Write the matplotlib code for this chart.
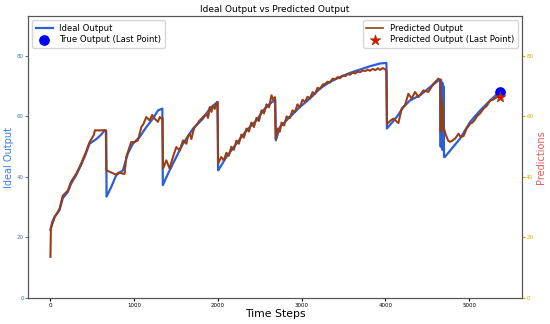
import matplotlib
matplotlib.use("Agg")
import matplotlib.pyplot as plt

# ---- data ----
ideal_x = [0, 20, 48, 108, 147, 207, 247, 307, 367, 420, 467, 547, 606, 640, 666,
           670, 726, 786, 865, 925, 985, 1065, 1145, 1224, 1284, 1336,
           1342, 1404, 1463, 1583, 1703, 1822, 1902, 1995,
           2002, 2022, 2101, 2221, 2341, 2460, 2540, 2620, 2685,
           2692, 2739, 2859, 2978, 3098, 3218, 3337, 3457, 3577, 3696, 3816, 3935, 4012,
           4018, 4135, 4214, 4294, 4414, 4533, 4633, 4655,
           4660, 4665, 4670, 4675, 4680, 4685, 4690, 4695, 4700,
           4710, 4793, 4892, 5012, 5132, 5251, 5363]
ideal_y = [22.5, 25, 26.8, 29, 33, 35, 37.8, 40.6, 44, 47.5, 51, 52.5, 54, 55.2, 55.3,
           33.5, 36.7, 40.6, 42.2, 47.8, 51, 53.2, 56.5, 59.3, 62, 62.6,
           37.3, 41.1, 44.4, 51, 56, 59.3, 62.6, 64.8,
           42.2, 43, 46.6, 51, 55.4, 58.7, 62, 64.2, 65.5,
           52.1, 56.5, 59.8, 63.1, 65.9, 69.2, 71.4, 73, 74.4, 75.5, 76.6, 77.5, 77.7,
           56, 59.8, 63.1, 65.3, 67, 69.7, 71.9, 72.2,
           50, 72, 50, 71, 49, 71, 50, 70, 46.6,
           46.6, 49.4, 52.7, 58.2, 62, 65.3, 68.1]

pred_x = [0, 5, 48, 108, 147, 207, 247, 307, 367, 420, 467, 520, 530, 600, 660,
          668, 700, 740, 780, 820, 850, 885, 905, 940, 965, 1000, 1045, 1085, 1110,
          1145, 1185, 1215, 1245, 1284, 1305, 1325, 1338,
          1345, 1384, 1423, 1463, 1503, 1543, 1583, 1623, 1643, 1663, 1683, 1703,
          1722, 1742, 1782, 1822, 1862, 1882, 1902, 1922, 1942, 1962, 1982, 1995,
          2003, 2040, 2070, 2101, 2130, 2160, 2190, 2221, 2250, 2280, 2310, 2341,
          2370, 2400, 2430, 2460, 2490, 2520, 2550, 2580, 2610, 2640, 2660, 2680,
          2690, 2710, 2739, 2760, 2790, 2820, 2859, 2890, 2920, 2950, 2978, 3010,
          3040, 3070, 3098, 3130, 3160, 3190, 3218, 3250, 3280, 3310, 3337, 3370,
          3400, 3430, 3457, 3490, 3520, 3550, 3577, 3610, 3640, 3670, 3696, 3730,
          3760, 3790, 3816, 3850, 3880, 3910, 3935, 3970, 4000, 4012,
          4018, 4055, 4095, 4155, 4195, 4234, 4274, 4314, 4354, 4394, 4453, 4513,
          4573, 4633, 4655,
          4660, 4665, 4670, 4675, 4680, 4685, 4690, 4700, 4720, 4750, 4773, 4800,
          4833, 4873, 4900, 4933, 4970, 5012, 5040, 5070, 5092, 5130, 5172, 5210,
          5251, 5290, 5331, 5363]
pred_y = [13.6, 23, 26.5, 29.5, 33.8, 35.5, 38.5, 41, 44.5, 48, 51.5, 54, 55.4, 55.4, 55.5,
          42.2, 41.8, 41.3, 40.8, 41.5, 41.2, 41.0, 46.6, 49.5, 51.6, 51.5, 52.1, 56.5, 57.5,
          59.8, 58.7, 60.5, 59.3, 58.2, 59.8, 59.3, 59.5,
          42.8, 45.5, 42.8, 46.6, 49.9, 48.8, 52.1, 51, 53.5, 54.3, 52.5, 54.9,
          56.5, 57.1, 58.7, 59.8, 60.9, 59.5, 63.1, 61.5, 63.6, 62.5, 64.2, 64.8,
          44.5, 46.6, 45.5, 48, 47, 50, 49, 52, 51, 54, 53, 56,
          55, 58, 56.5, 59.5, 58.5, 62, 61, 64, 63, 67, 65.5, 66.4,
          52.5, 56, 55, 58, 57, 60, 59.5, 62, 61.5, 64, 63, 65.5,
          64.8, 66.5, 66, 68, 67.5, 69.5, 69, 70.5, 70.8, 71.5, 71.2, 72.5,
          72.3, 73, 72.6, 73.5, 73.3, 74, 73.8, 74.5, 74.2, 74.8, 74.6, 75.2,
          75, 75.5, 75.1, 75.7, 75.3, 75.9, 75.4, 76, 75.5, 75.2,
          57.5, 58.5, 59.3, 57.8, 62.6, 63.7, 67.5, 65.9, 68.1, 66.4, 68.6, 68.1,
          70.8, 72.5, 72,
          55, 66, 55.5, 65, 56, 63, 57, 56, 54, 52, 51.6, 52,
          52.7, 54.3, 53.2, 53.5, 56, 57.6, 58, 59, 60, 61, 62.6, 63.5,
          65.3, 65.6, 66.4, 66.4]

title = "Ideal Output vs Predicted Output"
xlabel = "Time Steps"
ylabel_left = "Ideal Output"
ylabel_right = "Predictions"

fig = plt.figure(figsize=(5.5, 3.24), dpi=100)
ax1 = fig.add_subplot(111)
fig.subplots_adjust(left=28/550, right=522/550, top=1-16/324, bottom=1-298/324)

l1, = ax1.plot(ideal_x, ideal_y, color='#2a5fd6', lw=1.6, label='Ideal Output')
p1 = ax1.scatter([ideal_x[-1]], [ideal_y[-1]], s=45, color='blue', zorder=5,
                 label='True Output (Last Point)')
ax1.set_ylim(0, 93.2)
ax1.set_xlabel(xlabel, fontsize=7.8, labelpad=1)
ax1.set_ylabel(ylabel_left, fontsize=7, color='#3a80d5', labelpad=2)
ax1.tick_params(axis='y', colors='#4a78c8', labelsize=4, length=2, pad=1)
ax1.tick_params(axis='x', labelsize=4, length=2, pad=1.5)
ax1.set_title(title, fontsize=6.5, pad=3)

ax2 = ax1.twinx()
ax2.plot(pred_x, pred_y, color='red', lw=1.5, alpha=0.6)
l2, = ax2.plot(pred_x, pred_y, color='#8B4513', lw=1.2, label='Predicted Output')
p2 = ax2.scatter([pred_x[-1]], [pred_y[-1]], s=60, marker='*', color='red',
                 edgecolors='#8B4513', linewidths=0.6, zorder=5,
                 label='Predicted Output (Last Point)')
ax2.set_ylim(0, 93.2)
ax2.set_ylabel(ylabel_right, fontsize=7, color='#e05a5a', labelpad=2)
ax2.tick_params(axis='y', colors='#c8b400', labelsize=4, length=2, pad=1)
for a in (ax1, ax2):
    for s in a.spines.values():
        s.set_color('#555555')
        s.set_linewidth(0.8)

ax1.legend(handles=[l1, p1], loc='upper left', fontsize=6.1, framealpha=0.8,
           borderpad=0.4, labelspacing=0.3, handlelength=2)
ax2.legend(handles=[l2, p2], loc='upper right', fontsize=6.1, framealpha=0.8,
           borderpad=0.4, labelspacing=0.3, handlelength=2)

fig.savefig('out.png', dpi=100)
